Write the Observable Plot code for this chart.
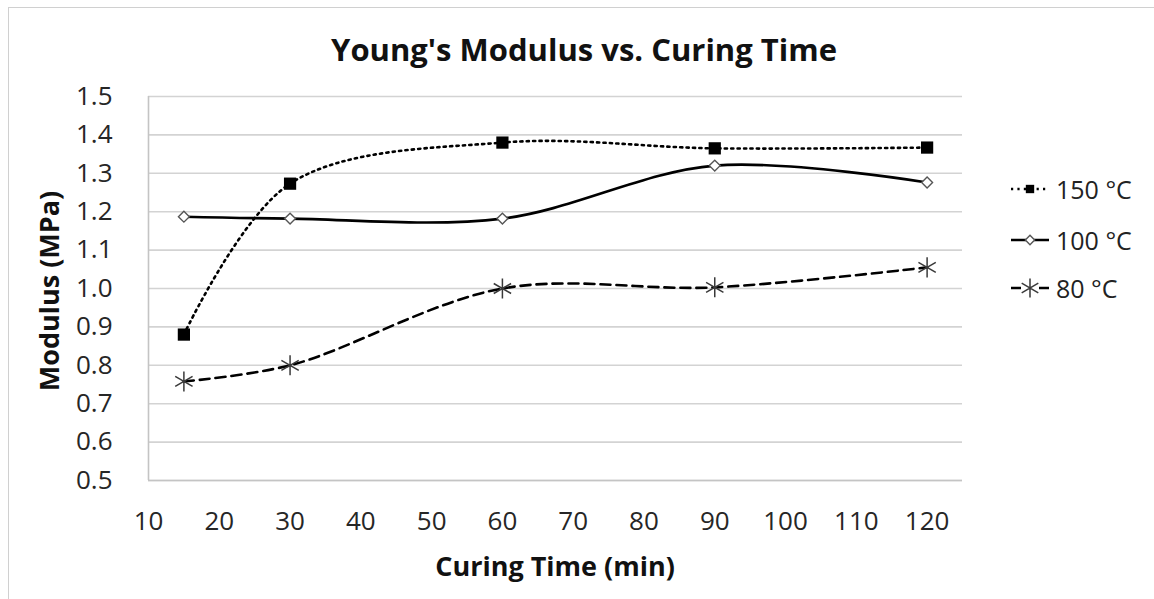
<!DOCTYPE html>
<html>
<head>
<meta charset="utf-8">
<script src="https://cdn.jsdelivr.net/npm/d3@7"></script>
<script src="https://cdn.jsdelivr.net/npm/@observablehq/plot@0.6"></script>
<style>
  body { margin: 0; background: #fff; }
  #wrap { position: relative; width: 1154px; height: 599px; overflow: hidden; font-family: "Open Sans", "Lato", sans-serif; color: #111; }
  #border { position: absolute; left: 8px; top: 7px; width: 1200px; height: 700px; border: 1.5px solid #d0d0d0; box-sizing: border-box; }
  .lbl { position: absolute; transform: translate(-50%, -50%); white-space: nowrap; font-weight: bold; line-height: 1.2; }
  #title { left: 584px; top: 50px; font-size: 31px; }
  #xlab { left: 555px; top: 566px; font-size: 27px; }
  #ylab { left: 49px; top: 291px; font-size: 27px; transform: translate(-50%, -50%) rotate(-90deg); }
  #legend { position: absolute; left: 1008px; top: 0; }
  .row { position: absolute; left: 0; display: flex; align-items: center; font-size: 25px; white-space: nowrap; color: #222; }
  .row svg { margin-right: 6px; flex: none; }
  #chart { position: absolute; left: 0; top: 0; }
</style>
</head>
<body>
<div id="wrap">
  <div id="border"></div>
  <div id="chart"></div>
  <div class="lbl" id="title">Young's Modulus vs. Curing Time</div>
  <div class="lbl" id="xlab">Curing Time (min)</div>
  <div class="lbl" id="ylab">Modulus (MPa)</div>
  <div id="legend"></div>
</div>
<script>
// ---- data ----
const curingTimes = [15, 30, 60, 90, 120];
const modulus150 = [0.88, 1.273, 1.38, 1.365, 1.367];
const modulus100 = [1.187, 1.182, 1.182, 1.32, 1.276];
const modulus80 = [0.758, 0.80, 1.0, 1.003, 1.055];
const seriesNames = ["150 °C", "100 °C", "80 °C"];
const xTicks = [10, 20, 30, 40, 50, 60, 70, 80, 90, 100, 110, 120];
const yTicks = [0.5, 0.6, 0.7, 0.8, 0.9, 1.0, 1.1, 1.2, 1.3, 1.4, 1.5];

const seriesValues = [modulus150, modulus100, modulus80];
const rows = [];
seriesNames.forEach((s, i) => curingTimes.forEach((t, j) => rows.push({series: s, time: t, modulus: seriesValues[i][j]})));
const bySeries = s => rows.filter(d => d.series === s);

const styles = {
  "150 °C": {dash: "2.2 4.2", symbol: "square", fill: "#000", stroke: "none", r: 6.9, sw: 0},
  "100 °C": {dash: null, symbol: "diamond2", fill: "#fff", stroke: "#555", r: 4.9, sw: 1.4},
  "80 °C": {dash: "10 6", symbol: "asterisk", fill: "none", stroke: "#3a3a3a", r: 9.5, sw: 1.5}
};

const marks = [
  Plot.gridY(yTicks, {stroke: "#d3d3d3", strokeOpacity: 1, strokeWidth: 1.6}),
  Plot.ruleX([10], {stroke: "#c4c4c4", strokeWidth: 1.6}),
  Plot.ruleY([0.5], {stroke: "#c4c4c4", strokeWidth: 1.6}),
  Plot.axisY(yTicks, {tickSize: 0, tickPadding: 36, tickFormat: d => d.toFixed(1), label: null, fontSize: 26, fill: "#262626"}),
  Plot.axisX(xTicks, {tickSize: 0, tickPadding: 31, label: null, fontSize: 26, fill: "#262626"})
];
seriesNames.forEach(s => {
  const st = styles[s];
  marks.push(Plot.line(bySeries(s), {x: "time", y: "modulus", curve: "catmull-rom", stroke: "#000", strokeWidth: 2.6, strokeDasharray: st.dash}));
});
seriesNames.forEach(s => {
  const st = styles[s];
  marks.push(Plot.dot(bySeries(s), {x: "time", y: "modulus", symbol: st.symbol, r: st.r, fill: st.fill, stroke: st.stroke, strokeWidth: st.sw}));
});

const chart = Plot.plot({
  width: 1154,
  height: 599,
  marginLeft: 148,
  marginRight: 192,
  marginTop: 96,
  marginBottom: 119,
  x: {domain: [10, 125]},
  y: {domain: [0.5, 1.5]},
  style: {fontFamily: "Open Sans, Lato, sans-serif", fontSize: "26px", background: "transparent"},
  marks
});
document.getElementById("chart").appendChild(chart);

// ---- legend ----
const legend = document.getElementById("legend");
const symMap = {square: d3.symbolSquare, diamond2: d3.symbolDiamond2, asterisk: d3.symbolAsterisk};
const legendSizes = {"150 °C": 70, "100 °C": 55, "80 °C": 260};
const rowTops = [189, 240, 288];
seriesNames.forEach((s, i) => {
  const st = styles[s];
  const row = document.createElement("div");
  row.className = "row";
  row.style.top = (rowTops[i] - 17) + "px";
  row.style.height = "34px";
  const svg = d3.create("svg").attr("width", 42).attr("height", 28);
  svg.append("line").attr("x1", 3).attr("x2", 41).attr("y1", 14).attr("y2", 14)
    .attr("stroke", "#000").attr("stroke-width", 2.6)
    .attr("stroke-dasharray", s === "80 °C" ? "10 18" : st.dash);
  svg.append("path").attr("transform", "translate(22,14)")
    .attr("d", d3.symbol(symMap[st.symbol], legendSizes[s])())
    .attr("fill", st.fill).attr("stroke", st.stroke === "none" ? null : st.stroke).attr("stroke-width", st.sw);
  row.appendChild(svg.node());
  const t = document.createElement("span");
  t.textContent = s;
  row.appendChild(t);
  legend.appendChild(row);
});
</script>
</body>
</html>
